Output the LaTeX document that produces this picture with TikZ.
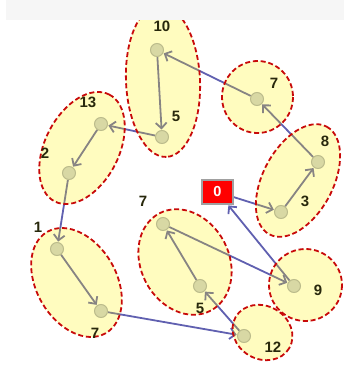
\documentclass[tikz,border=0pt]{standalone}
\usepackage{fontspec}
\setmainfont{Liberation Sans}
\usetikzlibrary{arrows.meta}
\pgfdeclarelayer{edges}
\pgfdeclarelayer{blobs}
\pgfsetlayers{edges,blobs,main}
\definecolor{edgeblue}{RGB}{96,96,176}
\definecolor{blobred}{RGB}{200,10,10}
\definecolor{dotfill}{RGB}{216,216,164}
\definecolor{dotline}{RGB}{188,188,140}
\definecolor{boxgray}{RGB}{160,160,160}
\definecolor{labcol}{RGB}{40,40,12}
\definecolor{bandgray}{RGB}{246,246,246}
\tikzset{
  dot/.style={circle, minimum size=13pt, inner sep=0pt, fill=dotfill, draw=dotline, line width=1pt},
  edge/.style={draw=edgeblue, line width=1.8pt, -{Straight Barb[length=5.5pt,width=11pt]}, shorten >=0.5pt},
  blob/.style={fill=yellow, fill opacity=0.25, draw=blobred, draw opacity=1, line width=1.8pt, dash pattern=on 5pt off 2.8pt},
  lab/.style={text=labcol, font=\fontsize{15}{17}\selectfont\bfseries, inner sep=0pt},
  zerobox/.style={rectangle, fill=red, draw=boxgray, line width=2pt, minimum width=31pt, minimum height=24pt, inner sep=0pt, text=white, font=\fontsize{14.5}{16}\selectfont\bfseries}
}
\begin{document}
\begin{tikzpicture}[x=1pt,y=-1pt]
\useasboundingbox (0,0) rectangle (344,368);
\fill[bandgray] (6,0) rectangle (344,20);
% nodes
\node[dot] (n10) at (157,50) {};
\node[dot] (n5a) at (162,137) {};
\node[dot] (n7a) at (257,99) {};
\node[dot] (n13) at (101,124) {};
\node[dot] (n2) at (69,173) {};
\node[dot] (n8) at (318,162) {};
\node[dot] (n3) at (281,212) {};
\node[dot] (n1) at (57,249) {};
\node[dot] (n7b) at (101,311) {};
\node[dot] (n7c) at (163,224) {};
\node[dot] (n5c) at (200,286) {};
\node[dot] (n9) at (294,286) {};
\node[dot] (n12) at (244,336) {};
\node[zerobox] (n0) at (217.5,192) {0};
% labels
\node[lab] (l10) at (162,26) {10};
\node[lab] (l5a) at (176,116) {5};
\node[lab] (l7a) at (274,83) {7};
\node[lab] (l13) at (88,102) {13};
\node[lab] (l2) at (45,153) {2};
\node[lab] (l8) at (325,141) {8};
\node[lab] (l3) at (305,201) {3};
\node[lab] (l1) at (38,227) {1};
\node[lab] (l7b) at (95,333) {7};
\node[lab] (l7c) at (143,201) {7};
\node[lab] (l5c) at (200,308) {5};
\node[lab] (l9) at (318,290) {9};
\node[lab] (l12) at (273,347) {12};
% edges
\begin{pgfonlayer}{edges}
\draw[edge] (n0) -- (n3);
\draw[edge] (n3) -- (n8);
\draw[edge] (n8) -- (n7a);
\draw[edge] (n7a) -- (n10);
\draw[edge] (n10) -- (n5a);
\draw[edge] (n5a) -- (n13);
\draw[edge] (n13) -- (n2);
\draw[edge] (n2) -- (n1);
\draw[edge] (n1) -- (n7b);
\draw[edge] (n7b) -- (n12);
\draw[edge] (n12) -- (n5c);
\draw[edge] (n5c) -- (n7c);
\draw[edge] (n7c) -- (n9);
\draw[edge] (n9) -- (n0);
\end{pgfonlayer}
% clusters
\begin{pgfonlayer}{blobs}
\draw[blob, rotate around={-87.4:(163,81)}] (163,81) ellipse [x radius=76, y radius=37];
\draw[blob] (257.5,97) ellipse [x radius=35.5, y radius=36];
\draw[blob, rotate around={63:(82,148)}] (82,148) ellipse [x radius=60, y radius=37];
\draw[blob, rotate around={62:(298,180.5)}] (298,180.5) ellipse [x radius=61, y radius=35];
\draw[blob, rotate around={-60:(76.5,282.5)}] (76.5,282.5) ellipse [x radius=58.5, y radius=40];
\draw[blob, rotate around={-62:(185,262)}] (185,262) ellipse [x radius=55, y radius=44];
\draw[blob] (305.5,285) ellipse [x radius=36.5, y radius=36];
\draw[blob, rotate around={-30:(262.5,332.5)}] (262.5,332.5) ellipse [x radius=31, y radius=26.5];
\end{pgfonlayer}
\end{tikzpicture}
\end{document}
